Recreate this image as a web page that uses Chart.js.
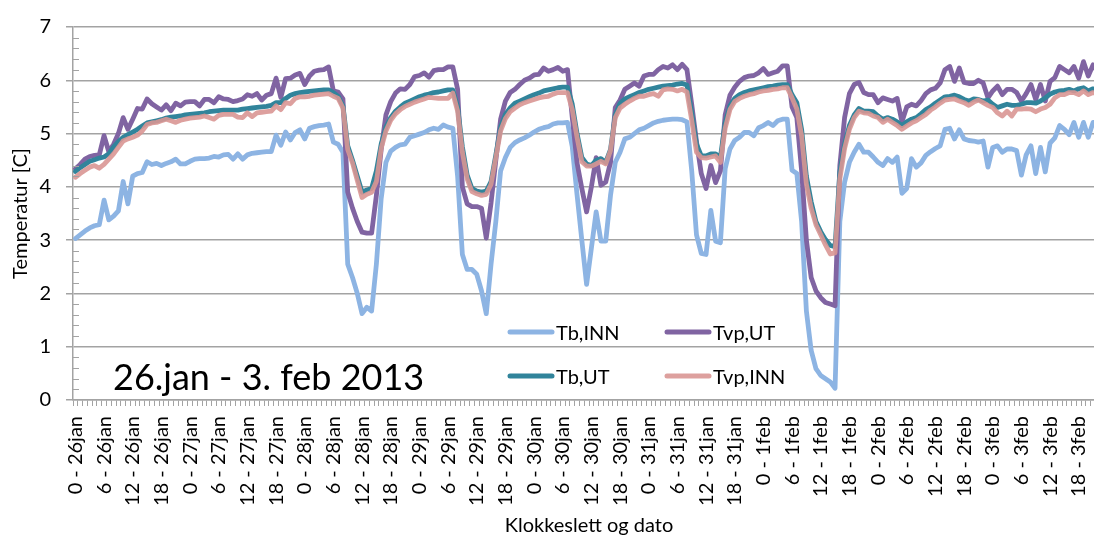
<!DOCTYPE html>
<html>
<head>
<meta charset="utf-8">
<title>Temperatur 26.jan - 3. feb 2013</title>
<script src="https://cdn.jsdelivr.net/npm/chart.js@4"></script>
<style>
  html, body { margin: 0; padding: 0; background: #fff; overflow: hidden; }
  /* plot runs a little past the right edge of the window, like the cropped original */
  #wrap { width: 1110px; height: 536px; position: relative; }
</style>
</head>
<body>
<div id="wrap"><canvas id="tempChart"></canvas></div>
<script>
const days = ['26jan', '27jan', '28jan', '29jan', '30jan', '31jan', '1feb', '2feb', '3feb'];
const hours = [0, 1, 2, 3, 4, 5, 6, 7, 8, 9, 10, 11, 12, 13, 14, 15, 16, 17, 18, 19, 20, 21, 22, 23];

// one line per day, hourly values
const tbInn = [
    3.03, 3.10, 3.17, 3.23, 3.27, 3.29, 3.75, 3.38, 3.45, 3.55, 4.10, 3.68, 4.20, 4.25, 4.27, 4.47, 4.42, 4.44, 4.40, 4.44, 4.47, 4.52, 4.43, 4.43,
    4.48, 4.52, 4.53, 4.53, 4.54, 4.57, 4.56, 4.60, 4.61, 4.52, 4.62, 4.52, 4.60, 4.63, 4.64, 4.65, 4.66, 4.66, 4.97, 4.78, 5.03, 4.88, 5.02, 5.07,
    4.90, 5.10, 5.13, 5.15, 5.16, 5.18, 4.84, 4.80, 4.65, 2.55, 2.30, 2.00, 1.62, 1.74, 1.67, 2.55, 3.78, 4.46, 4.67, 4.74, 4.79, 4.80, 4.93, 4.96,
    4.99, 5.02, 5.07, 5.10, 5.08, 5.16, 5.12, 5.10, 4.20, 2.73, 2.45, 2.45, 2.36, 2.05, 1.62, 2.55, 3.35, 4.30, 4.55, 4.74, 4.83, 4.88, 4.92, 4.97,
    5.03, 5.08, 5.11, 5.13, 5.18, 5.20, 5.20, 5.21, 4.75, 3.85, 3.00, 2.17, 2.85, 3.53, 2.98, 2.98, 3.84, 4.46, 4.65, 4.90, 4.93, 5.00, 5.07, 5.10,
    5.15, 5.20, 5.23, 5.25, 5.26, 5.27, 5.27, 5.26, 5.22, 4.30, 3.10, 2.75, 2.73, 3.56, 2.98, 2.95, 4.34, 4.71, 4.87, 4.93, 5.02, 5.02, 4.96, 5.11,
    5.15, 5.21, 5.15, 5.24, 5.27, 5.27, 4.31, 4.25, 3.35, 1.67, 0.93, 0.59, 0.46, 0.40, 0.34, 0.22, 3.35, 4.09, 4.46, 4.65, 4.80, 4.65, 4.65, 4.56,
    4.46, 4.40, 4.53, 4.46, 4.56, 3.88, 3.97, 4.53, 4.37, 4.45, 4.59, 4.66, 4.72, 4.77, 5.08, 5.10, 4.90, 5.07, 4.90, 4.87, 4.86, 4.84, 4.86, 4.37,
    4.74, 4.77, 4.65, 4.71, 4.71, 4.68, 4.22, 4.60, 4.77, 4.25, 4.74, 4.28, 4.82, 4.92, 5.15, 5.08, 4.98, 5.21, 4.93, 5.21, 4.93, 5.21, 5.10, 5.18
];

const tvpUt = [
    4.34, 4.42, 4.52, 4.57, 4.59, 4.60, 4.96, 4.66, 4.80, 5.00, 5.30, 5.08, 5.27, 5.47, 5.46, 5.65, 5.56, 5.50, 5.44, 5.54, 5.43, 5.57, 5.52, 5.59,
    5.60, 5.60, 5.52, 5.64, 5.64, 5.58, 5.69, 5.65, 5.64, 5.60, 5.62, 5.65, 5.73, 5.70, 5.75, 5.63, 5.72, 5.75, 6.04, 5.68, 6.03, 6.04, 6.10, 6.13,
    5.92, 6.08, 6.17, 6.19, 6.20, 6.25, 5.80, 5.78, 5.65, 3.90, 3.60, 3.35, 3.15, 3.13, 3.13, 3.84, 4.70, 5.35, 5.60, 5.76, 5.84, 5.83, 5.92, 6.07,
    6.09, 6.14, 6.06, 6.18, 6.20, 6.20, 6.25, 6.25, 5.83, 4.00, 3.68, 3.63, 3.63, 3.60, 3.04, 3.70, 4.50, 5.27, 5.61, 5.77, 5.83, 5.92, 6.00, 6.04,
    6.10, 6.11, 6.23, 6.17, 6.20, 6.24, 6.17, 6.20, 5.30, 4.45, 3.97, 3.53, 4.00, 4.55, 4.03, 4.09, 4.46, 5.49, 5.63, 5.83, 5.89, 5.95, 5.89, 6.08,
    6.11, 6.11, 6.20, 6.26, 6.23, 6.29, 6.20, 6.30, 6.20, 5.55, 4.85, 4.25, 3.97, 4.40, 4.08, 4.30, 5.35, 5.72, 5.87, 5.98, 6.05, 6.08, 6.09, 6.14,
    6.22, 6.11, 6.14, 6.17, 6.27, 6.27, 5.50, 5.30, 4.30, 3.00, 2.30, 2.05, 1.92, 1.83, 1.80, 1.77, 4.40, 5.30, 5.75, 5.92, 5.96, 5.77, 5.73, 5.73,
    5.58, 5.67, 5.64, 5.61, 5.66, 5.22, 5.50, 5.55, 5.52, 5.62, 5.75, 5.82, 5.85, 5.95, 6.20, 6.26, 5.98, 6.23, 5.96, 5.94, 5.94, 6.00, 5.95, 5.67,
    5.80, 5.89, 5.73, 5.83, 5.83, 5.77, 5.61, 5.75, 5.92, 5.64, 5.92, 5.61, 5.98, 6.05, 6.26, 6.20, 6.14, 6.26, 6.04, 6.35, 6.08, 6.29, 6.15, 6.25
];

const tbUt = [
    4.29, 4.36, 4.42, 4.48, 4.51, 4.54, 4.56, 4.62, 4.75, 4.85, 4.93, 4.98, 5.03, 5.08, 5.14, 5.20, 5.22, 5.24, 5.26, 5.29, 5.31, 5.32, 5.33, 5.35,
    5.36, 5.37, 5.38, 5.39, 5.41, 5.42, 5.43, 5.44, 5.44, 5.44, 5.44, 5.46, 5.47, 5.48, 5.49, 5.50, 5.51, 5.53, 5.58, 5.58, 5.66, 5.72, 5.75, 5.77,
    5.78, 5.79, 5.80, 5.81, 5.82, 5.82, 5.77, 5.70, 5.52, 4.77, 4.50, 4.20, 3.90, 3.94, 3.97, 4.30, 4.80, 5.12, 5.30, 5.42, 5.50, 5.57, 5.61, 5.65,
    5.69, 5.72, 5.74, 5.77, 5.78, 5.80, 5.82, 5.82, 5.50, 4.75, 4.22, 3.97, 3.92, 3.90, 3.92, 4.10, 4.60, 5.12, 5.36, 5.48, 5.57, 5.61, 5.65, 5.69,
    5.73, 5.76, 5.80, 5.82, 5.84, 5.86, 5.87, 5.87, 5.55, 5.00, 4.55, 4.43, 4.40, 4.50, 4.53, 4.46, 4.70, 5.35, 5.57, 5.65, 5.69, 5.73, 5.77, 5.80,
    5.83, 5.85, 5.87, 5.89, 5.90, 5.91, 5.93, 5.94, 5.91, 5.40, 4.80, 4.58, 4.58, 4.62, 4.62, 4.55, 5.20, 5.52, 5.66, 5.73, 5.77, 5.80, 5.82, 5.84,
    5.86, 5.88, 5.89, 5.91, 5.92, 5.92, 5.73, 5.58, 5.08, 4.20, 3.72, 3.35, 3.16, 3.01, 2.90, 2.88, 4.28, 4.80, 5.15, 5.35, 5.47, 5.42, 5.42, 5.41,
    5.33, 5.27, 5.30, 5.27, 5.22, 5.15, 5.22, 5.27, 5.30, 5.37, 5.45, 5.50, 5.57, 5.63, 5.69, 5.70, 5.72, 5.69, 5.64, 5.61, 5.65, 5.64, 5.61, 5.63,
    5.55, 5.49, 5.52, 5.55, 5.53, 5.53, 5.55, 5.58, 5.58, 5.57, 5.61, 5.67, 5.74, 5.78, 5.80, 5.81, 5.83, 5.80, 5.84, 5.86, 5.80, 5.84, 5.83, 5.85
];

const tvpInn = [
    4.18, 4.25, 4.31, 4.37, 4.40, 4.35, 4.42, 4.52, 4.62, 4.74, 4.86, 4.90, 4.93, 4.97, 5.05, 5.17, 5.20, 5.21, 5.24, 5.27, 5.24, 5.21, 5.25, 5.27,
    5.29, 5.30, 5.31, 5.33, 5.30, 5.27, 5.34, 5.36, 5.36, 5.36, 5.31, 5.30, 5.39, 5.32, 5.39, 5.40, 5.41, 5.42, 5.52, 5.45, 5.58, 5.56, 5.66, 5.69,
    5.69, 5.70, 5.72, 5.73, 5.74, 5.75, 5.70, 5.66, 5.48, 4.70, 4.45, 4.12, 3.80, 3.86, 3.90, 4.10, 4.72, 5.05, 5.25, 5.37, 5.45, 5.51, 5.55, 5.59,
    5.62, 5.65, 5.68, 5.67, 5.66, 5.66, 5.66, 5.76, 5.42, 4.65, 4.15, 3.91, 3.87, 3.84, 3.86, 4.05, 4.55, 5.05, 5.28, 5.41, 5.48, 5.54, 5.58, 5.61,
    5.64, 5.67, 5.69, 5.70, 5.74, 5.77, 5.77, 5.77, 5.45, 4.93, 4.47, 4.39, 4.39, 4.43, 4.48, 4.43, 4.68, 5.30, 5.48, 5.55, 5.61, 5.66, 5.70, 5.70,
    5.73, 5.75, 5.70, 5.82, 5.84, 5.83, 5.80, 5.83, 5.78, 5.25, 4.65, 4.55, 4.54, 4.56, 4.58, 4.46, 5.10, 5.45, 5.60, 5.66, 5.70, 5.73, 5.75, 5.78,
    5.80, 5.81, 5.83, 5.84, 5.86, 5.86, 5.67, 5.46, 4.96, 4.05, 3.60, 3.29, 3.10, 2.91, 2.74, 2.76, 4.15, 4.72, 5.08, 5.30, 5.42, 5.39, 5.38, 5.33,
    5.30, 5.21, 5.27, 5.21, 5.15, 5.08, 5.14, 5.20, 5.24, 5.30, 5.36, 5.44, 5.50, 5.57, 5.63, 5.64, 5.65, 5.61, 5.58, 5.53, 5.59, 5.63, 5.58, 5.53,
    5.49, 5.39, 5.33, 5.42, 5.33, 5.46, 5.46, 5.47, 5.46, 5.41, 5.46, 5.49, 5.55, 5.67, 5.73, 5.73, 5.77, 5.77, 5.73, 5.80, 5.73, 5.77, 5.76, 5.78
];

const labels = [];
days.forEach(d => hours.forEach(h => labels.push(h + ' - ' + d)));

Chart.defaults.font.family = 'Lato';
Chart.defaults.font.size = 20;
Chart.defaults.color = '#000';

const gridGrey = '#a3a3a3';

// legend is drawn inside the plot in two columns, plus the period text
const legendSpots = [
    { x: 508, y: 332 },
    { x: 665, y: 332 },
    { x: 508, y: 376 },
    { x: 665, y: 376 },
];

const extras = {
    id: 'extras',
    afterDraw(chart) {
        const { ctx, chartArea } = chart;
        const y = chart.scales.y;
        ctx.save();

        // small ticks every 0.2 inside the y axis
        ctx.strokeStyle = gridGrey;
        ctx.lineWidth = 1;
        for (let k = 1; k < 35; k++) {
            if (k % 5 === 0) continue;
            const py = Math.round(y.getPixelForValue(k / 5)) + 0.5;
            ctx.beginPath();
            ctx.moveTo(chartArea.left, py);
            ctx.lineTo(chartArea.left + 6, py);
            ctx.stroke();
        }

        ctx.font = '20px Lato';
        ctx.fillStyle = '#000';
        ctx.textBaseline = 'alphabetic';
        chart.data.datasets.forEach((ds, i) => {
            const s = legendSpots[i];
            ctx.strokeStyle = ds.borderColor;
            ctx.lineWidth = 5;
            ctx.lineCap = 'round';
            ctx.beginPath();
            ctx.moveTo(s.x + 2, s.y);
            ctx.lineTo(s.x + 44, s.y);
            ctx.stroke();
            ctx.fillText(ds.label, s.x + 48, s.y + 8);
        });

        ctx.font = '36px Lato';
        ctx.fillText('26.jan - 3. feb 2013', 113, 390);
        ctx.restore();
    }
};

const data = {
    labels: labels,
    datasets: [
        { label: 'Tb,INN', data: tbInn, borderColor: '#8db4e3', order: 4 },
        { label: 'Tvp,UT', data: tvpUt, borderColor: '#8064a2', order: 3 },
        { label: 'Tb,UT', data: tbUt, borderColor: '#31849b', order: 2 },
        { label: 'Tvp,INN', data: tvpInn, borderColor: 'rgba(217, 150, 148, 0.9)', order: 1 },
    ]
};

const config = {
    type: 'line',
    data: data,
    options: {
        responsive: true,
        maintainAspectRatio: false,
        animation: false,
        layout: { padding: { top: 23, right: 5, left: 0, bottom: 0 } },
        plugins: {
            legend: { display: false },
            tooltip: { enabled: false },
        },
        elements: {
            point: { radius: 0 },
            line: { borderWidth: 4.8, tension: 0, borderJoinStyle: 'round', borderCapStyle: 'round', fill: false },
        },
        scales: {
            x: {
                type: 'category',
                offset: true,
                grid: { offset: true, drawOnChartArea: false, drawTicks: true, tickLength: 6, tickColor: gridGrey },
                border: { color: gridGrey, width: 1.5 },
                ticks: {
                    autoSkip: false,
                    minRotation: 90,
                    maxRotation: 90,
                    padding: 10,
                    callback: function (value, index) {
                        return index % 6 === 0 ? labels[index] : '';
                    }
                },
                title: { display: true, text: 'Klokkeslett og dato', padding: { top: 0, bottom: -2 } },
                afterFit(scale) {
                    scale.height = 136;
                    scale.paddingLeft = 0;
                    scale.paddingRight = 0;
                }
            },
            y: {
                min: 0,
                max: 7,
                ticks: { stepSize: 1, padding: 15 },
                grid: { color: gridGrey, lineWidth: 1.5, tickLength: 7, tickColor: gridGrey },
                border: { color: gridGrey, width: 1.5 },
                title: { display: true, text: 'Temperatur [C]', padding: { top: 9, bottom: 0 } },
                afterFit(scale) {
                    scale.width = 73;
                }
            }
        }
    },
    plugins: [extras]
};

const tempChart = new Chart(document.getElementById('tempChart'), config);
</script>
</body>
</html>
